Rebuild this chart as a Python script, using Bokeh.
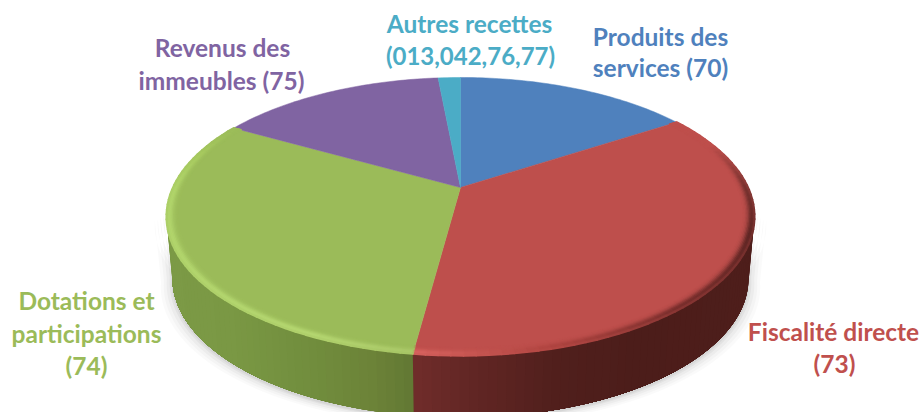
import math
from bokeh.plotting import figure
from bokeh.models import Range1d
from bokeh.core.properties import value
from bokeh.embed import file_html
from bokeh.resources import INLINE

categories = ["Produits des services (70)", "Fiscalité directe (73)", "Dotations et participations (74)",
              "Revenus des immeubles (75)", "Autres recettes (013,042,76,77)"]
shares = [15.8, 36.3, 31.1, 15.3, 1.5]
colors = ["#4F81BD", "#BE4F4C", "#9BBB59", "#8064A2", "#4BACC6"]

label_lines = [
    ("Autres recettes", 469, 23, "#4BACC6", 24.5), ("(013,042,76,77)", 470, 55, "#4BACC6", 24),
    ("Produits des", 660, 36, "#4F81BD", 24.5), ("services (70)", 660, 67, "#4F81BD", 24.5),
    ("Revenus des", 222, 47, "#8064A2", 24.5), ("immeubles (75)", 221, 80, "#8064A2", 24.5),
    ("Dotations et", 86, 300, "#9BBB59", 24.5), ("participations", 86, 333, "#9BBB59", 24.5), ("(74)", 86, 365, "#9BBB59", 24.5),
    ("Fiscalité directe", 833, 331, "#C0504D", 24.5), ("(73)", 834, 363, "#C0504D", 24.5),
]

# view model
CX, CY, D, F, G = 460.0, 187.0, 4.79, 1377.0, 637.0
DEPTH, SHR = 62.0, 0.98


def proj(deg, r=1.0):
    t = math.radians(deg)
    X, Y = r * math.sin(t), r * math.cos(t)
    return CX + F * X / (D + Y), CY - G * Y / (D + Y)


def proj_low(deg):
    x, y = proj(deg)
    return CX + (x - CX) * SHR, y + DEPTH


def lerp(a, b, t):
    t = max(0.0, min(1.0, t))
    return tuple(a[i] + (b[i] - a[i]) * t for i in range(3))


def stops(table, v):
    if v <= table[0][0]:
        return table[0][1]
    for (a, ca), (b, cb) in zip(table, table[1:]):
        if v <= b:
            return lerp(ca, cb, (v - a) / (b - a))
    return table[-1][1]


def hexc(c):
    return "#%02x%02x%02x" % tuple(int(round(v)) for v in c)


total = sum(shares)
edges = [0.0]
for s in shares:
    edges.append(edges[-1] + s / total * 360)

p = figure(width=921, height=412, output_backend="svg", toolbar_location=None,
           x_range=Range1d(0, 921), y_range=Range1d(412, 0), min_border=0,
           outline_line_color=None, background_fill_color="white", border_fill_color="white")
p.axis.visible = False
p.grid.visible = False

# soft shadow under the pie
sil = [proj(a) for a in range(100, 261, 2)] + [proj_low(a) for a in range(260, 99, -2)]
for grow, al in [(12, 0.02), (9, 0.025), (6, 0.03), (3, 0.04), (1, 0.05)]:
    sx = [CX + (x - CX) * (1 + grow / 295) for x, y in sil]
    sy = [y + grow * 0.55 + 2 for x, y in sil]
    p.patch(sx, sy, fill_color="#000000", fill_alpha=al, line_color=None)

# side wall: bands overlap the next one, so no seam shows between them
wall = {
    1: [(413, (112, 44, 42)), (470, (98, 38, 36)), (560, (80, 31, 28)), (640, (76, 29, 26)), (760, (78, 30, 27))],
    2: [(165, (124, 154, 70)), (230, (122, 152, 68)), (300, (114, 143, 62)), (370, (108, 131, 56)), (413, (98, 120, 52))],
}
qx, qy, qc = [], [], []
for idx in wall:
    lo, hi = edges[idx], edges[idx + 1]
    a = max(lo, 101.0)
    b = min(hi, 259.0)
    n = int((b - a) / 1.5) + 1
    for i in range(n):
        a0 = a + (b - a) * i / n
        a1 = b  # every band runs to the slice's end; the next one paints over it
        pts = [a0 + (a1 - a0) * k / 24 for k in range(25)]
        top = [proj(t) for t in pts]
        low = [proj_low(t) for t in reversed(pts)]
        qx.append([q[0] for q in top + low])
        qy.append([q[1] for q in top + low])
        mid = proj(a0 + (b - a) / n / 2)
        qc.append(hexc(stops(wall[idx], mid[0])))
p.patches(qx, qy, fill_color=qc, line_color=None)

# top face
for i, c in enumerate(colors):
    lo, hi = edges[i], edges[i + 1]
    n = max(3, int((hi - lo) / 1.0))
    pts = [proj(lo + (hi - lo) * k / n) for k in range(n + 1)]
    p.patch([CX] + [q[0] for q in pts], [CY] + [q[1] for q in pts], fill_color=c, line_color=c, line_width=0.5)

# bevel along the rim
rim = {
    1: [(70, (190, 79, 76)), (90, (120, 50, 47)), (110, (95, 38, 36)), (140, (120, 46, 44)), (165, (175, 68, 64)), (187, (215, 98, 94))],
    2: [(188, (170, 200, 104)), (205, (180, 214, 112)), (270, (176, 212, 106)), (285, (168, 203, 96)), (300, (155, 187, 89))],
}
base = {1: (190, 79, 76), 2: (155, 187, 89)}
lx, ly, lc = [], [], []
rings = 9
R0 = 0.965
for j in range(rings):
    u = j / (rings - 1)
    r = R0 + (1 - R0) * u
    inten = math.exp(-((u - 0.8) / 0.42) ** 2)
    for idx in rim:
        lo, hi = edges[idx], edges[idx + 1]
        n = int((hi - lo) / 2.0)
        for k in range(n):
            a0 = lo + (hi - lo) * k / n
            a1 = lo + (hi - lo) * (k + 1) / n
            h = stops(rim[idx], (a0 + a1) / 2)
            p0, p1 = proj(a0, r), proj(a1, r)
            lx.append([p0[0], p1[0]])
            ly.append([p0[1], p1[1]])
            lc.append(hexc(lerp(base[idx], h, inten)))
p.multi_line(lx, ly, line_color=lc, line_width=2.2, line_cap="round")

# labels
for txt, x, y, c, fs in label_lines:
    p.text([x], [y], text=[txt], text_color=c, text_font=value("Lato"), text_font_style="bold",
           text_font_size=f"{fs}px", text_align="center", text_baseline="middle")

open("out.html", "w").write(file_html(p, INLINE))
